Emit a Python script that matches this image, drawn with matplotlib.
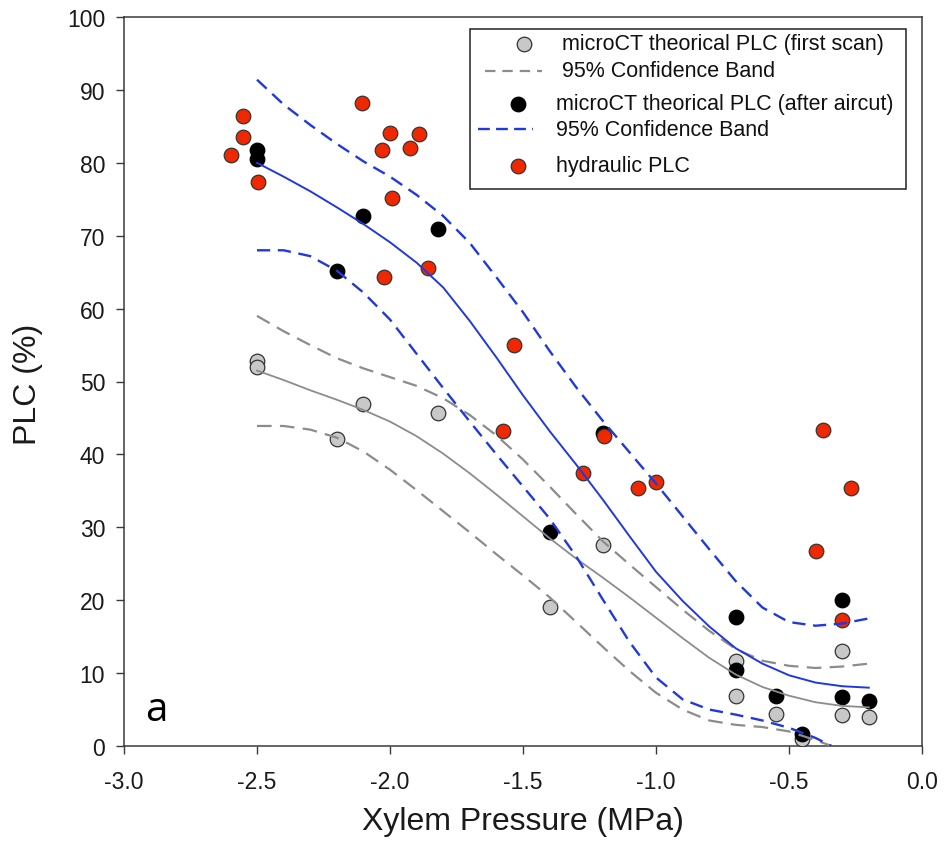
import numpy as np
import matplotlib
matplotlib.use("Agg")
import matplotlib.pyplot as plt
from matplotlib.patches import Rectangle
from matplotlib.lines import Line2D

plt.rcParams['font.family'] = ['Liberation Sans', 'DejaVu Sans']
plt.rcParams['lines.scale_dashes'] = False

# ----------------------------
# Data
# ----------------------------
# microCT scans: first scan (grey) and after air cut (black), same pressures
ct_pressure = [-2.5, -2.5, -2.2, -2.1, -1.82, -1.4, -1.2,
               -0.7, -0.7, -0.55, -0.45, -0.3, -0.3, -0.2]
plc_first = [52.8, 52.0, 42.1, 46.9, 45.7, 19.0, 27.6,
             11.6, 6.8, 4.4, 0.9, 13.0, 4.3, 4.0]
plc_aircut = [81.7, 80.5, 65.2, 72.7, 70.9, 29.4, 42.9,
              17.7, 10.4, 6.85, 1.6, 20.0, 6.66, 6.2]

# hydraulic measurements
hyd_pressure = [-2.554, -2.554, -2.599, -2.495, -2.104, -2.0, -2.029,
                -1.89, -1.925, -1.994, -2.023, -1.856, -1.535, -1.574,
                -1.195, -1.276, -1.069, -1.0, -0.371, -0.267, -0.4, -0.30]
hyd_plc = [86.4, 83.5, 81.1, 77.3, 88.2, 84.1, 81.8,
           83.9, 82.0, 75.2, 64.4, 65.6, 55.0, 43.2,
           42.5, 37.5, 35.4, 36.2, 43.4, 35.4, 26.8, 17.3]

# fitted curves and 95% confidence bands
fit_x = [-2.5, -2.4, -2.3, -2.2, -2.1, -2.0, -1.9, -1.8, -1.7, -1.6, -1.5, -1.4,
         -1.3, -1.2, -1.1, -1.0, -0.9, -0.8, -0.7, -0.6, -0.5, -0.4, -0.3, -0.2]
low_x = [-2.5, -2.4, -2.3, -2.2, -2.1, -2.0, -1.9, -1.8, -1.7, -1.6, -1.5, -1.4,
         -1.3, -1.2, -1.1, -1.0, -0.9, -0.8, -0.7, -0.6, -0.5, -0.4, -0.34]

aircut_fit = [80.0, 78.1, 76.1, 73.9, 71.6, 69.1, 66.3, 62.9, 58.3, 53.3, 48.1, 43.2,
              38.6, 33.8, 28.8, 23.9, 19.9, 16.4, 13.4, 11.3, 9.7, 8.7, 8.2, 8.0]
aircut_upper = [91.4, 88.0, 85.2, 82.6, 80.2, 78.1, 75.6, 72.7, 69.0, 64.3, 59.5, 54.2,
                49.2, 44.6, 40.3, 36.0, 31.5, 27.0, 22.6, 19.0, 17.0, 16.5, 16.8, 17.5]
aircut_lower = [68.0, 68.0, 67.2, 65.2, 62.2, 58.5, 53.8, 49.1, 44.5, 40.0, 35.6, 31.2,
                26.0, 20.1, 14.3, 9.4, 6.4, 5.0, 4.3, 3.5, 2.5, 1.1, 0.0]

first_fit = [51.5, 50.2, 48.8, 47.5, 46.1, 44.5, 42.5, 40.1, 37.4, 34.5, 31.5, 28.5,
             25.7, 23.1, 20.4, 17.6, 14.8, 12.1, 9.8, 8.1, 6.9, 6.0, 5.5, 5.3]
first_upper = [59.0, 56.9, 55.0, 53.2, 51.8, 50.6, 49.4, 47.7, 45.4, 42.6, 39.3, 35.6,
               31.8, 28.1, 24.9, 21.8, 18.7, 15.8, 13.3, 11.7, 11.0, 10.7, 10.9, 11.3]
first_lower = [43.9, 43.9, 43.4, 42.3, 40.4, 37.9, 35.1, 32.2, 29.3, 26.3, 23.4, 20.4,
               17.0, 13.6, 10.3, 7.3, 5.0, 3.5, 2.9, 2.6, 2.0, 0.8, 0.0]

xticks = [-3.0, -2.5, -2.0, -1.5, -1.0, -0.5, 0.0]
yticks = [0, 10, 20, 30, 40, 50, 60, 70, 80, 90, 100]

legend_labels = ["microCT theorical PLC (first scan)", "95% Confidence Band",
                 "microCT theorical PLC (after aircut)", "95% Confidence Band",
                 "hydraulic PLC"]

# ----------------------------
# Styles
# ----------------------------
grey_fill = "#c8c8c8"
red_fill = "#f02800"
edge = "#333333"
blue = "#2038e0"
grey_line = "#8c8c8c"
blue_dash = (0, (9.5, 5.5))
grey_dash = (0, (10.5, 6.0))
msize = 10.5

# ----------------------------
# Figure setup
# ----------------------------
fig = plt.figure(figsize=(9.45, 8.54), dpi=100)
ax = fig.add_axes([124 / 945, 107 / 854, 798 / 945, 729 / 854])
ax.set_xlim(-3.0, 0.0)
ax.set_ylim(0, 100)

# points first, lines are drawn over them as in the original
ax.plot(ct_pressure, plc_first, 'o', ms=msize, mfc=grey_fill, mec=edge, mew=0.9, zorder=3)
ax.plot(ct_pressure, plc_aircut, 'o', ms=msize, mfc="black", mec="black", mew=0.9, zorder=3)
ax.plot(hyd_pressure, hyd_plc, 'o', ms=msize, mfc=red_fill, mec=edge, mew=0.9, zorder=3)

ax.plot(fit_x, first_fit, color=grey_line, lw=1.3, zorder=4)
ax.plot(fit_x, first_upper, color=grey_line, lw=1.6, linestyle=grey_dash, zorder=4)
ax.plot(low_x, first_lower, color=grey_line, lw=1.6, linestyle=grey_dash, zorder=4)

ax.plot(fit_x, aircut_fit, color=blue, lw=1.4, zorder=4)
ax.plot(fit_x, aircut_upper, color=blue, lw=1.7, linestyle=blue_dash, zorder=4)
ax.plot(low_x, aircut_lower, color=blue, lw=1.7, linestyle=blue_dash, zorder=4)

# ----------------------------
# Axes, ticks, labels
# ----------------------------
for s in ax.spines.values():
    s.set_color("#3a3a3a")
    s.set_linewidth(1.1)
ax.set_xticks(xticks)
ax.set_xticklabels([f"{v:.1f}" for v in xticks])
ax.set_yticks(yticks)
ax.set_yticklabels([str(v) for v in yticks])
ax.tick_params(direction="out", length=5.5, width=1.0, color="#3a3a3a",
               labelsize=16.5, labelcolor="#1a1a1a")
ax.tick_params(axis="x", pad=12)
ax.tick_params(axis="y", pad=8)

ax.set_xlabel("Xylem Pressure (MPa)", fontsize=23, color="#1a1a1a")
ax.xaxis.set_label_coords(0.5, -0.1024)
ax.xaxis.label.set_va("center")
ax.set_ylabel("PLC (%)", fontsize=23, color="#1a1a1a")
ax.yaxis.set_label_coords(-0.120, 0.497)
ax.yaxis.label.set_va("center")

ax.text(0.027, 0.035, "a", transform=ax.transAxes, fontsize=29,
        family=["Open Sans", "DejaVu Sans"], ha="left", va="baseline")

# ----------------------------
# Legend (drawn by hand to keep the original's spacing)
# ----------------------------
def fx(px):
    return (px - 124) / 798


def fy(py):
    return (747.3 - py) / 729.3


ax.add_patch(Rectangle((fx(470), fy(190.5)), fx(906) - fx(470), fy(30) - fy(190.5),
                       transform=ax.transAxes, fill=False, ec="#222222", lw=1.1, zorder=6))

ax.add_line(Line2D([fx(524)], [fy(45)], transform=ax.transAxes, marker='o', ms=msize,
                   mfc=grey_fill, mec=edge, mew=0.9, zorder=7))
ax.add_line(Line2D([fx(485), fx(542)], [fy(72), fy(72)], transform=ax.transAxes,
                   color=grey_line, lw=1.6, linestyle=(0, (7.5, 5.0)), zorder=7))
ax.add_line(Line2D([fx(518)], [fy(105)], transform=ax.transAxes, marker='o', ms=msize,
                   mfc="black", mec="black", mew=0.9, zorder=7))
ax.add_line(Line2D([fx(478), fx(533)], [fy(130), fy(130)], transform=ax.transAxes,
                   color=blue, lw=1.7, linestyle=(0, (8.5, 4.5)), zorder=7))
ax.add_line(Line2D([fx(518)], [fy(166.7)], transform=ax.transAxes, marker='o', ms=msize,
                   mfc=red_fill, mec=edge, mew=0.9, zorder=7))

label_pos = [(562, 45), (562, 72), (556, 105), (556, 131), (556, 167)]
for (px, py), lab in zip(label_pos, legend_labels):
    ax.text(fx(px), fy(py), lab, transform=ax.transAxes, fontsize=15.5,
            color="#111111", ha="left", va="center", zorder=7)

fig.savefig("out.png", dpi=100)
